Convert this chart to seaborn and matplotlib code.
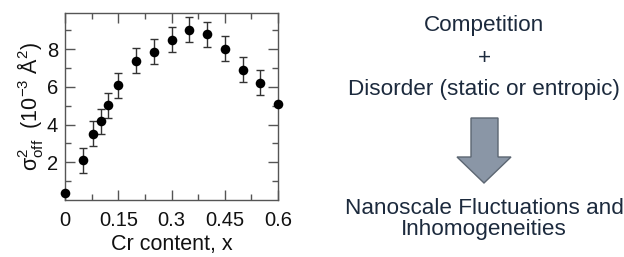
import numpy as np
import pandas as pd
import matplotlib
matplotlib.use("Agg")
import matplotlib.pyplot as plt
import seaborn as sns
from matplotlib.patches import Polygon

# Data
cr_content = [0.0, 0.05, 0.08, 0.10, 0.12, 0.15, 0.20, 0.25, 0.30, 0.35, 0.40, 0.45, 0.50, 0.55, 0.60]
sigma2_off = [0.38, 2.11, 3.52, 4.17, 5.02, 6.09, 7.38, 7.87, 8.51, 9.04, 8.79, 8.03, 6.90, 6.22, 5.10]
sigma_err  = [0.0, 0.66, 0.65, 0.66, 0.68, 0.66, 0.66, 0.66, 0.66, 0.66, 0.66, 0.66, 0.66, 0.66, 0.0]
x_ticks = [0, 0.15, 0.3, 0.45, 0.6]
x_tick_labels = ["0", "0.15", "0.3", "0.45", "0.6"]
y_ticks = [2, 4, 6, 8]

text_lines = ["Competition", "+", "Disorder (static or entropic)",
              "Nanoscale Fluctuations and", "Inhomogeneities"]

sns.set_theme(style="ticks")
plt.rcParams['font.family'] = ['Liberation Sans', 'DejaVu Sans']
plt.rcParams['mathtext.fontset'] = 'custom'
plt.rcParams['mathtext.rm'] = 'Liberation Sans'
plt.rcParams['mathtext.it'] = 'Liberation Sans:italic'

df = pd.DataFrame({"x": cr_content, "y": sigma2_off, "err": sigma_err})

W, H = 624, 257
fig = plt.figure(figsize=(W / 100, H / 100), dpi=100)
ax = fig.add_axes([65 / W, 1 - 200 / H, (278 - 65) / W, (200 - 13) / H])

ax.errorbar(df["x"], df["y"], yerr=df["err"], fmt="none", ecolor="#333333",
            elinewidth=1.0, capsize=3.2, capthick=1.0, clip_on=False, zorder=2)
sns.scatterplot(data=df, x="x", y="y", ax=ax, color="black", s=48,
                edgecolor="black", linewidth=0, clip_on=False, zorder=3, legend=False)

ax.set_xlim(0, 0.6)
ax.set_ylim(0, 9.92)
ax.set_xticks(x_ticks)
ax.set_xticklabels(x_tick_labels)
ax.set_xticks(np.arange(0, 0.6001, 0.075), minor=True)
ax.set_yticks(y_ticks)
ax.set_yticks([1, 3, 5, 7, 9], minor=True)

ax.tick_params(which="both", direction="in", top=True, right=True,
               color="#555555", width=1.0, labelsize=14.5, labelcolor="#111111")
ax.tick_params(which="major", length=7)
ax.tick_params(which="minor", length=4.5)
ax.tick_params(axis="x", which="major", pad=8)
ax.tick_params(axis="y", which="major", pad=5)
for s in ax.spines.values():
    s.set_color("#555555")
    s.set_linewidth(1.0)

ax.set_xlabel("Cr content, x", fontsize=15.5, color="#111111", labelpad=2.5)
ax.set_ylabel(r"$\mathregular{σ^2_{off}}$  (10$\mathregular{^{-3}}$ Å$\mathregular{^2}$)",
              fontsize=15.5, color="#111111", labelpad=1)

txt_color = "#1C2A3D"
cx = 484 / W
positions = [25, 59, 90, 209, 229]
for line, yp in zip(text_lines, positions):
    fig.text(cx, 1 - yp / H, line, ha="center", va="center", fontsize=16.2, color=txt_color)

pts = [(471, 118), (498, 118), (498, 157), (511, 157), (484, 183), (457, 157), (471, 157)]
poly = Polygon([(x / W, 1 - y / H) for x, y in pts], closed=True,
               transform=fig.transFigure, facecolor="#8A96A6", edgecolor="#5C6672", linewidth=1.0)
fig.patches.append(poly)

fig.savefig("out.png", dpi=100)
